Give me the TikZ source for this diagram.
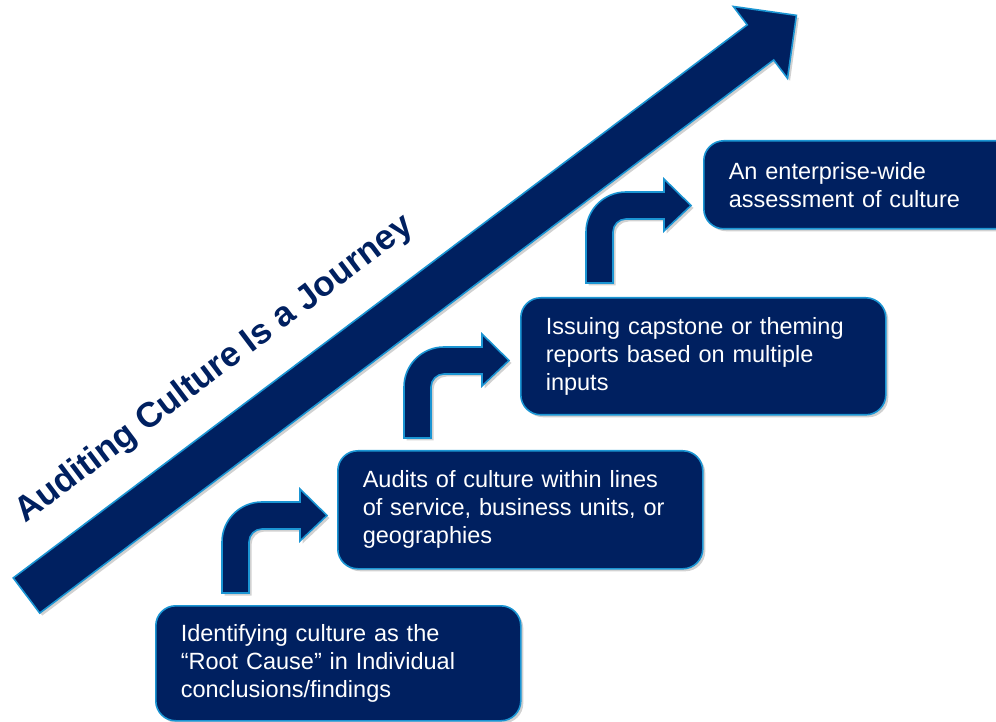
\documentclass[tikz,border=0pt]{standalone}
\usepackage{fontspec}
\setmainfont{Liberation Sans}
\usetikzlibrary{shadows}
\definecolor{navy}{HTML}{002060}
\definecolor{edgeblue}{HTML}{1B95D3}
\tikzset{
	shapeshadow/.style={drop shadow={shadow xshift=2.5pt, shadow yshift=-2.5pt, opacity=0.18, fill=black}},
	navyshape/.style={shapeshadow, draw=edgeblue, line width=1.6pt, fill=navy},
	stepbox/.style={navyshape, rounded corners=20pt, anchor=north west, inner xsep=25pt, inner ysep=0pt, minimum height=#1, text width=315pt, align=left, text=white, font=\fontsize{23.5}{28}\selectfont},
	journeytitle/.style={text=navy, font=\fontsize{35}{40}\selectfont\bfseries, inner sep=0pt}
}
\def\bentarrow(#1,#2){\draw[navyshape] (#1,#2) -- ++(0,51) arc (180:90:40pt) -- ++(38,0) -- ++(0,13) -- ++(27,-26.5) -- ++(-27,-25.5) -- ++(0,12) -- ++(-38,0) arc (90:180:13pt) -- ++(0,-51) -- cycle;}

\begin{document}
\begin{tikzpicture}[x=1pt, y=1pt]
		%%%%% START %%%%%
		\useasboundingbox (0,0) rectangle (996,721);
		
		% big arrow and its title
		\begin{scope}[shift={(26.5,125.5)}, rotate=37]
			\draw[navyshape] (0,-22) -- (919,-22) -- (919,-45) -- (964,0) -- (919,45) -- (919,22) -- (0,22) -- cycle;
			\node[journeytitle, anchor=base, rotate=37] (journey) at (286,58) {Auditing Culture Is a Journey};
		\end{scope}
		
		\bentarrow(222,128);
		\bentarrow(404,283);
		\bentarrow(586,438);
		
		\node[stepbox=115pt] (rootcause) at (155,116) {Identifying culture as the\\“Root Cause” in Individual\\conclusions/findings};
		\node[stepbox=118pt] (linesaudit) at (337,271) {Audits of culture within lines\\of service, business units, or\\geographies};
		\node[stepbox=117pt] (capstone) at (520,424) {Issuing capstone or theming\\reports based on multiple\\inputs};
		\node[stepbox=88pt] (enterprise) at (703,581) {An enterprise-wide\\assessment of culture};
		
		%%%%% END %%%%%
	\end{tikzpicture}
\end{document}
